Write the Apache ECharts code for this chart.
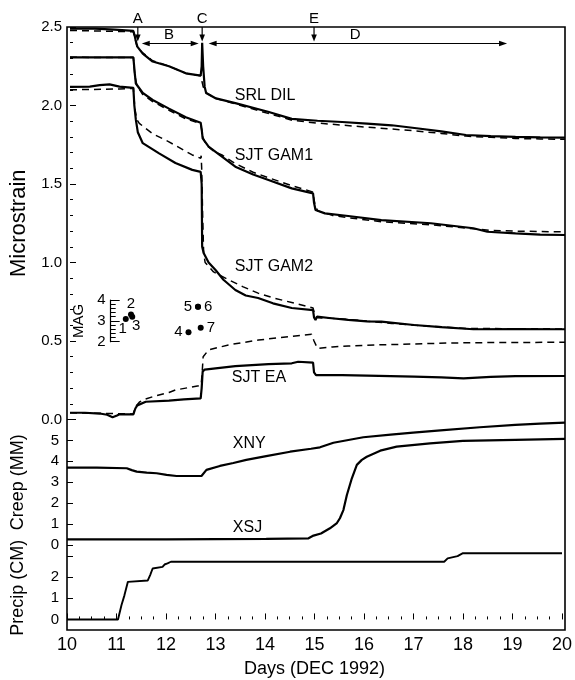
<!DOCTYPE html>
<html><head><meta charset="utf-8">
<script src="https://cdn.jsdelivr.net/npm/echarts@6/dist/echarts.min.js"></script>
<style>html,body{margin:0;padding:0;background:#fff}#c{width:575px;height:680px}</style>
</head><body><div id="c"></div>
<script>
// ---- data: [day, value] ----
const srlDil = [[10,2.49],[10.5,2.49],[10.9,2.483],[11.28,2.475],[11.31,2.44],[11.33,2.41],[11.36,2.375],[11.47,2.33],[11.67,2.28],[12.0,2.25],[12.34,2.205],[12.64,2.19],[12.66,2.25],[12.67,2.40],[12.69,2.25],[12.72,2.12],[12.75,2.08],[12.95,2.045],[13.34,2.015],[14.0,1.96],[14.48,1.915],[15.0,1.903],[15.5,1.895],[16.0,1.885],[16.5,1.874],[17.0,1.855],[17.5,1.835],[18.0,1.812],[18.5,1.805],[19.0,1.80],[19.5,1.797],[20,1.795]];
const srlDilModel = [[10,2.478],[11.28,2.47],[11.31,2.43],[11.36,2.37],[11.47,2.335],[11.67,2.285],[12.0,2.25],[12.34,2.205],[12.64,2.19],[12.69,2.12],[12.75,2.08],[12.95,2.045],[13.34,2.01],[14.0,1.95],[14.5,1.905],[15.0,1.888],[15.5,1.875],[16.0,1.862],[16.5,1.85],[17.0,1.838],[17.5,1.822],[18.0,1.805],[18.5,1.797],[19.0,1.79],[19.5,1.787],[20,1.785]];
const sjtGam1 = [[10,2.307],[11.28,2.307],[11.31,2.2],[11.33,2.14],[11.4,2.11],[11.47,2.08],[11.67,2.035],[12.0,1.98],[12.34,1.925],[12.64,1.89],[12.66,1.85],[12.68,1.79],[12.8,1.738],[13.07,1.674],[13.34,1.61],[13.7,1.56],[14.01,1.525],[14.48,1.472],[14.91,1.44],[14.93,1.38],[14.96,1.334],[15.15,1.313],[15.62,1.296],[16.29,1.27],[17.29,1.25],[18.15,1.218],[18.43,1.196],[19.0,1.185],[19.5,1.178],[20,1.175]];
const sjtGam1Model = [[10,2.307],[11.28,2.305],[11.31,2.19],[11.35,2.13],[11.47,2.07],[11.67,2.025],[12.0,1.97],[12.34,1.915],[12.64,1.885],[12.68,1.80],[12.75,1.75],[12.9,1.71],[13.07,1.685],[13.34,1.63],[13.7,1.575],[14.01,1.54],[14.48,1.49],[14.9,1.45],[14.95,1.37],[15.0,1.33],[15.3,1.30],[15.62,1.285],[16.29,1.26],[17.29,1.24],[18.15,1.215],[18.5,1.205],[19.0,1.2],[19.5,1.197],[20,1.195]];
const sjtGam2 = [[10,2.118],[10.4,2.12],[10.6,2.13],[10.8,2.135],[11.0,2.12],[11.28,2.112],[11.30,2.0],[11.33,1.91],[11.37,1.83],[11.47,1.76],[11.8,1.695],[12.13,1.634],[12.47,1.59],[12.64,1.577],[12.66,1.5],[12.67,1.1],[12.70,1.06],[12.8,1.0],[12.94,0.952],[13.1,0.89],[13.34,0.825],[13.55,0.79],[13.8,0.774],[14.1,0.74],[14.48,0.71],[14.91,0.697],[14.93,0.65],[14.96,0.634],[14.99,0.655],[15.28,0.645],[15.62,0.634],[16.0,0.625],[16.29,0.623],[16.95,0.602],[17.5,0.588],[18.15,0.575],[19,0.576],[20,0.575]];
const sjtGam2Model = [[10,2.10],[11.0,2.105],[11.28,2.11],[11.31,1.98],[11.35,1.91],[11.4,1.886],[11.67,1.82],[11.99,1.77],[12.47,1.685],[12.64,1.664],[12.65,1.68],[12.66,1.60],[12.68,1.3],[12.70,1.06],[12.73,1.0],[12.9,0.94],[13.2,0.89],[13.5,0.845],[13.8,0.805],[14.1,0.775],[14.48,0.745],[14.91,0.71],[14.95,0.66],[15.0,0.648],[15.3,0.645],[15.62,0.638],[16.0,0.626],[16.5,0.612],[17.0,0.60],[17.5,0.59],[18.0,0.58],[19,0.578],[20,0.577]];
const sjtEa = [[10,0.043],[10.3,0.043],[10.6,0.038],[10.75,0.03],[10.86,0.014],[10.95,0.025],[11.0,0.033],[11.28,0.033],[11.32,0.07],[11.36,0.09],[11.4,0.097],[11.53,0.113],[12.0,0.12],[12.3,0.128],[12.64,0.135],[12.66,0.2],[12.68,0.305],[12.72,0.318],[12.94,0.326],[13.34,0.34],[14.01,0.353],[14.48,0.358],[14.61,0.368],[14.91,0.362],[14.93,0.30],[14.97,0.283],[15.5,0.283],[16.0,0.28],[16.95,0.273],[17.5,0.268],[17.95,0.262],[18.5,0.272],[19.0,0.276],[20,0.277]];
const sjtEaModel = [[10,0.043],[11.28,0.035],[11.32,0.08],[11.4,0.11],[11.47,0.124],[11.7,0.148],[12.0,0.172],[12.13,0.188],[12.6,0.215],[12.65,0.22],[12.67,0.3],[12.69,0.40],[12.8,0.443],[13.2,0.475],[13.81,0.506],[14.48,0.53],[14.88,0.543],[14.93,0.50],[15.0,0.453],[15.3,0.462],[15.62,0.468],[16.2,0.475],[16.95,0.481],[17.63,0.487],[18.5,0.49],[20,0.492]];
const xny = [[10,3.70],[10.6,3.70],[11.2,3.67],[11.3,3.58],[11.4,3.51],[11.6,3.46],[11.8,3.43],[12.0,3.35],[12.2,3.30],[12.7,3.30],[12.8,3.59],[13.07,3.78],[13.34,3.92],[13.6,4.07],[14.0,4.25],[14.48,4.46],[14.9,4.6],[15.08,4.67],[15.35,4.89],[15.95,5.15],[16.5,5.28],[16.95,5.37],[17.5,5.48],[18.29,5.63],[19.0,5.74],[19.5,5.8],[20,5.85]];
const xsj = [[10,0.27],[12,0.27],[14,0.29],[14.85,0.32],[14.95,0.45],[15.1,0.55],[15.28,0.80],[15.42,1.05],[15.48,1.28],[15.55,1.67],[15.62,2.39],[15.72,3.19],[15.82,3.83],[15.92,4.07],[16.02,4.22],[16.29,4.51],[16.62,4.70],[17.29,4.86],[17.95,4.98],[19.0,5.03],[20,5.07]];
const precip = [[10,0],[11.03,0],[11.1,0.67],[11.16,1.14],[11.23,1.78],[11.63,1.84],[11.68,2.1],[11.73,2.41],[11.93,2.49],[11.97,2.6],[12.03,2.65],[12.1,2.73],[17.62,2.73],[17.69,2.89],[17.89,3.0],[17.99,3.13],[20,3.13]];
const quakes = [[11.18,3.09,'1'],[11.285,3.31,'2'],[11.31,3.20,'3'],[12.44,2.45,'4'],[12.63,3.68,'5'],[12.63,3.68,'6'],[12.685,2.67,'7']];
const quakeLabelPos = {'1':['bottom',[-3,-4]],'2':['top',[0,3]],'3':['bottom',[4,-4]],'4':['left',[0,0]],'5':['left',[0,0]],'6':['right',[0,0]],'7':['right',[0,0]]};
const curveLabels = [{t:'SRL DIL',x:13.33,y:2.066,g:0},{t:'SJT GAM1',x:13.33,y:1.68,g:0},{t:'SJT GAM2',x:13.33,y:0.973,g:0},{t:'SJT EA',x:13.27,y:0.2675,g:0},{t:'XNY',x:13.33,y:4.83,g:1},{t:'XSJ',x:13.33,y:0.84,g:1}];
const eventArrows = [{t:'A',x:11.37},{t:'C',x:12.67},{t:'E',x:14.93}];
const spans = [{t:'B',from:11.45,to:12.6,lx:12.0},{t:'D',from:12.8,to:18.83,lx:15.76}];

const FONT = '"Liberation Sans", Arial, Helvetica, sans-serif';
const chart = echarts.init(document.getElementById('c'), null, {renderer:'canvas'});
const L = 67, R = 10;
const hiddenX = i => ({type:'value', gridIndex:i, min:10, max:20, show:false});
const solid = (name, data, xi, yi, w) => ({name, type:'line', data, xAxisIndex:xi, yAxisIndex:yi, showSymbol:false, symbol:'none', lineStyle:{color:'#000', width:w||2.2}, silent:true, animation:false, z:3});
const dashed = (name, data) => ({name, type:'line', data, xAxisIndex:0, yAxisIndex:0, showSymbol:false, symbol:'none', lineStyle:{color:'#000', width:1.5, type:[7,5]}, silent:true, animation:false, z:2});
const tickStyle = {lineStyle:{color:'#000', width:1}};

chart.setOption({
  animation:false,
  backgroundColor:'#fff',
  textStyle:{fontFamily:FONT, color:'#000'},
  grid:[
    {left:L, right:R, top:27, height:392.5},
    {left:L, right:R, top:419.5, height:125.5},
    {left:L, right:R, top:545.5, height:84.5},
    {left:L, right:R, top:300, height:41.7},
    {left:L, right:R, top:27, bottom:50, show:true, borderColor:'#000', borderWidth:1.6, backgroundColor:'transparent'}
  ],
  xAxis:[
    hiddenX(0), hiddenX(1),
    {type:'value', gridIndex:2, min:10, max:20, interval:1,
      axisLine:{show:false}, splitLine:{show:false},
      axisTick:{show:true, inside:true, length:6, ...tickStyle},
      minorTick:{show:true, splitNumber:4, length:3, lineStyle:{color:'#000', width:1}},
      axisLabel:{fontSize:18, margin:6, color:'#000', fontFamily:FONT},
      name:'Days (DEC 1992)', nameLocation:'middle', nameGap:30,
      nameTextStyle:{fontSize:18, color:'#000', fontFamily:FONT}},
    hiddenX(3), hiddenX(4)
  ],
  yAxis:[
    {type:'value', gridIndex:0, min:0, max:2.5, interval:0.5,
      axisLine:{show:false}, splitLine:{show:false},
      axisTick:{show:true, inside:true, length:6, ...tickStyle},
      minorTick:{show:true, splitNumber:5, length:3, lineStyle:{color:'#000', width:1}},
      axisLabel:{fontSize:15, margin:8, color:'#000', fontFamily:FONT, formatter:v=>v.toFixed(1)},
      name:'Microstrain', nameLocation:'middle', nameGap:40,
      nameTextStyle:{fontSize:22, color:'#000', fontFamily:FONT}},
    {type:'value', gridIndex:1, min:0, max:6, interval:1,
      axisLine:{show:false}, splitLine:{show:false},
      axisTick:{show:true, inside:true, length:6, ...tickStyle},
      axisLabel:{fontSize:15, margin:8, color:'#000', fontFamily:FONT, formatter:v=>v===6?'':String(v)},
      name:'Creep (MM)', nameLocation:'middle', nameGap:40,
      nameTextStyle:{fontSize:18, color:'#000', fontFamily:FONT}},
    {type:'value', gridIndex:2, min:-0.5, max:3.5,
      axisLine:{show:false}, splitLine:{show:false},
      axisTick:{show:true, inside:true, length:6, customValues:[0,1,2,3], ...tickStyle},
      axisLabel:{fontSize:15, margin:8, color:'#000', fontFamily:FONT, customValues:[0,1,2]},
      name:'Precip (CM)', nameLocation:'middle', nameGap:40,
      nameTextStyle:{fontSize:18, color:'#000', fontFamily:FONT}},
    {type:'value', gridIndex:3, min:2, max:4, interval:1, offset:-43.7,
      axisLine:{show:true, lineStyle:{color:'#000', width:1.2}}, splitLine:{show:false},
      axisTick:{show:true, inside:true, length:9, ...tickStyle},
      minorTick:{show:true, splitNumber:5, length:5, lineStyle:{color:'#000', width:1}},
      axisLabel:{fontSize:15, margin:5, color:'#000', fontFamily:FONT},
      name:'MAG', nameLocation:'middle', nameGap:12,
      nameTextStyle:{fontSize:15, color:'#000', fontFamily:FONT}},
    {type:'value', gridIndex:4, min:0, max:1, show:false}
  ],
  series:[
    dashed('SRL DIL model', srlDilModel),
    solid('SRL DIL', srlDil, 0, 0),
    dashed('SJT GAM1 model', sjtGam1Model),
    solid('SJT GAM1', sjtGam1, 0, 0),
    dashed('SJT GAM2 model', sjtGam2Model),
    solid('SJT GAM2', sjtGam2, 0, 0),
    dashed('SJT EA model', sjtEaModel),
    solid('SJT EA', sjtEa, 0, 0),
    solid('XNY', xny, 1, 1),
    solid('XSJ', xsj, 1, 1),
    solid('Precip', precip, 2, 2, 1.9),
    {name:'Events', type:'scatter', xAxisIndex:3, yAxisIndex:3, symbolSize:6, silent:true, animation:false,
      itemStyle:{color:'#000', opacity:1},
      data: quakes.map(q => ({value:[q[0], q[1]], name:q[2],
        label:{show:true, formatter:q[2], position:quakeLabelPos[q[2]][0], offset:quakeLabelPos[q[2]][1], distance:3,
          fontSize:15, color:'#000', opacity:1, fontFamily:FONT}}))}
  ]
});

// annotations placed through the chart's own coordinate conversion
const px = (g, x, y) => chart.convertToPixel({gridIndex:g}, [x, y]);
const g = [];
const txt = (t, p, align, size) => ({type:'text', x:p[0], y:p[1], silent:true, z:10,
  style:{text:t, fill:'#000', font:(size||16)+'px '+FONT, textAlign:align||'left', textVerticalAlign:'middle'}});
curveLabels.forEach(c => g.push(txt(c.t, px(c.g, c.x, c.y), 'left', 16)));
const topY = px(0, 10, 2.5)[1];
eventArrows.forEach(a => {
  const lab = px(0, a.x, 2.551);
  const tip = px(0, a.x, 2.408);
  g.push(txt(a.t, lab, 'center', 15));
  g.push({type:'line', silent:true, z:10, shape:{x1:tip[0], y1:topY, x2:tip[0], y2:tip[1]-5}, style:{stroke:'#000', lineWidth:1.2}});
  g.push({type:'polygon', silent:true, z:10, shape:{points:[[tip[0]-2.8, tip[1]-7],[tip[0]+2.8, tip[1]-7],[tip[0], tip[1]]]}, style:{fill:'#000'}});
});
spans.forEach(s => {
  const a = px(0, s.from, 2.395), b = px(0, s.to, 2.395);
  const lab = px(0, s.lx, 2.449);
  g.push(txt(s.t, lab, 'center', 15));
  g.push({type:'line', silent:true, z:10, shape:{x1:a[0]+4, y1:a[1], x2:b[0]-4, y2:b[1]}, style:{stroke:'#000', lineWidth:1.2}});
  g.push({type:'polygon', silent:true, z:10, shape:{points:[[a[0], a[1]],[a[0]+8, a[1]-2.8],[a[0]+8, a[1]+2.8]]}, style:{fill:'#000'}});
  g.push({type:'polygon', silent:true, z:10, shape:{points:[[b[0], b[1]],[b[0]-8, b[1]-2.8],[b[0]-8, b[1]+2.8]]}, style:{fill:'#000'}});
});
chart.setOption({graphic:g});
</script></body></html>
